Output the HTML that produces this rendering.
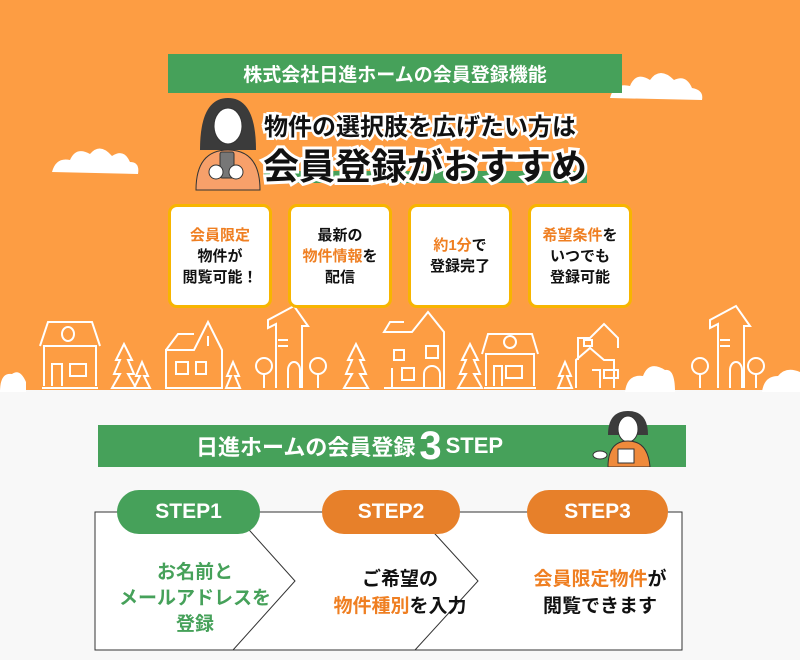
<!DOCTYPE html>
<html><head><meta charset="utf-8"><style>
body{margin:0;width:800px;height:660px;overflow:hidden;background:#f8f8f8;font-family:"Liberation Sans","Noto Sans CJK JP",sans-serif;font-weight:700}
.a{position:absolute}
.or{color:#ef7f22}
.card{position:absolute;top:204px;width:98px;height:98px;border:3px solid #f7b500;border-radius:9px;background:#fff;display:flex;align-items:center;justify-content:center;text-align:center;font-size:15px;line-height:21px;color:#111}
.pill{position:absolute;top:490px;height:44px;border-radius:22px;color:#fff;font-size:21px;display:flex;align-items:center;justify-content:center;font-family:"Liberation Sans",sans-serif}
.st{position:absolute;text-align:center;font-size:19px;line-height:27px;color:#111}
</style></head><body>
<div class="a" style="left:0;top:0;width:800px;height:390px;background:#fd9d43"></div>
<svg class="a" style="left:0;top:0" width="800" height="400">
<g fill="#fff">
<path d="M52 172 q4-15 18-12 q6-14 20-6 q10-12 22 2 q12-8 18 6 q10 0 8 12z"/>
<path d="M610 98 q4-16 20-12 q6-15 20-6 q10-14 24 0 q12-6 18 8 q12 2 10 12z"/>
<path d="M0 392 q0-20 12-18 q8-6 14 8 l0 10z"/>
<path d="M625 392 q2-18 18-16 q6-16 22-6 q10-2 10 22z"/>
<path d="M762 392 q2-16 16-16 q8-10 22-4 v20z"/>
</g>
<g fill="none" stroke="#fff" stroke-width="2">
<path d="M42 388h56 M44 386v-40h52v40 M40 346l8-24h44l8 24 M52 386v-22h10v22 M70 364h16v12h-16z M62 334a6 7 0 1 0 12 0a6 7 0 1 0-12 0"/>
<path d="M122 388l-10 0 8-14-6 0 6-14-4 0 8-16 8 16-4 0 6 14-6 0 8 14z M142 388l-8 0 6-12-4 0 6-14 6 14-4 0 6 12z"/>
<path d="M166 388h56v-38l-14-28-14 28h-28z M166 350l12-16h16 M176 362h12v12h-12z M196 362h10v12h-10z M208 336v10"/>
<path d="M232 388l-6 0 5-12-4 0 6-14 6 14-4 0 5 12z"/>
<path d="M276 388v-64l-8 4v-8l26-14 14 20-6 0v62 M278 340h10 M278 346h10 M288 388v-18a6 8 0 0 1 12 0v18"/>
<circle cx="264" cy="366" r="8"/><path d="M264 374v14"/><circle cx="318" cy="366" r="8"/><path d="M318 374v14"/>
<path d="M354 388l-10 0 8-14-6 0 6-14-4 0 8-16 8 16-4 0 6 14-6 0 8 14z"/>
<path d="M384 388h60v-56l-16-20-16 20h-28l6-10h14 M392 368v20 M394 350h10v10h-10z M402 368h12v12h-12z M424 388v-14a8 8 0 0 1 16 0v14 M426 346h12v12h-12z"/>
<path d="M468 388l-10 0 8-14-6 0 6-14-4 0 8-16 8 16-4 0 6 14-6 0 8 14z"/>
<path d="M484 388h52 M486 386v-32h48v32 M482 354l6-20h44l6 20 M494 386v-20h8v20 M506 366h16v12h-16z M504 342a6 6 0 1 0 12 0a6 6 0 1 0-12 0"/>
<path d="M564 388l-6 0 5-12-4 0 6-14 6 14-4 0 5 12z"/>
<path d="M576 388v-28l14-12 14 12h10v28 M578 360v-22h12l14-14 14 14v10 M592 370h8v18 M604 370h14v8h-14z M584 340h8v6h-8z"/>
<path d="M718 388v-64l-8 4v-8l26-14 14 20-6 0v62 M720 340h10 M720 346h10 M730 388v-18a6 8 0 0 1 12 0v18"/>
<circle cx="700" cy="366" r="8"/><path d="M700 374v14"/><circle cx="756" cy="366" r="8"/><path d="M756 374v14"/>
</g>
<g>
<path d="M200 150 q0-52 28-52 q28 0 28 52z" fill="#3b3b3b"/>
<ellipse cx="228" cy="126" rx="14" ry="18" fill="#fff" stroke="#333"/>
<path d="M196 190 q0-40 32-40 q32 0 32 40z" fill="#f7a06a" stroke="#333"/>
<rect x="220" y="152" width="14" height="26" rx="2" fill="#777" stroke="#333"/>
<circle cx="216" cy="172" r="7" fill="#fff" stroke="#333"/><circle cx="236" cy="172" r="7" fill="#fff" stroke="#333"/>
</g>
</svg>
<div class="a" style="left:264px;top:171px;width:323px;height:12px;background:#46a15a"></div>
<div class="a" style="left:168px;top:54px;width:454px;height:39px;background:#46a15a;color:#fff;font-size:19px;display:flex;align-items:center;justify-content:center">株式会社日進ホームの会員登録機能</div>
<div class="a" style="left:264px;top:107px;font-size:24px;color:#111;-webkit-text-stroke:5px #fff;paint-order:stroke fill;white-space:nowrap">物件の選択肢を広げたい方は</div>
<div class="a" style="left:263px;top:138px;font-size:36px;color:#111;-webkit-text-stroke:6px #fff;paint-order:stroke fill;white-space:nowrap">会員登録がおすすめ</div>
<div class="card" style="left:168px"><div><span class="or">会員限定</span><br>物件が<br>閲覧可能！</div></div>
<div class="card" style="left:288px"><div>最新の<br><span class="or">物件情報</span>を<br>配信</div></div>
<div class="card" style="left:408px"><div><span class="or">約1分</span>で<br>登録完了</div></div>
<div class="card" style="left:528px"><div><span class="or">希望条件</span>を<br>いつでも<br>登録可能</div></div>

<div class="a" style="left:98px;top:425px;width:588px;height:42px;background:#46a15a"></div>
<div class="a" style="left:196px;top:425px;height:42px;color:#fff;font-size:22px;display:flex;align-items:center;white-space:nowrap">日進ホームの会員登録<span style="font-size:40px;margin:0 4px">3</span>STEP</div>
<svg class="a" style="left:590px;top:405px" width="70" height="62">
<path d="M18 30 q0-24 20-24 q20 0 20 24z" fill="#3b3b3b"/>
<ellipse cx="38" cy="24" rx="10" ry="13" fill="#fff" stroke="#333"/>
<path d="M18 62 q0-26 20-26 q20 0 22 26z" fill="#ef8a3c" stroke="#333"/>
<ellipse cx="10" cy="50" rx="7" ry="4" fill="#fff" stroke="#333"/>
<rect x="28" y="44" width="16" height="14" fill="#fff" stroke="#333"/>
</svg>
<svg class="a" style="left:0;top:0" width="800" height="660">
<path d="M95 512H682V650H95Z" fill="#fff" stroke="#333" stroke-width="1"/>
<path d="M233 512L295 581L233 650 M415 512L478 581L415 650" fill="none" stroke="#333" stroke-width="1"/>
</svg>
<div class="pill" style="left:117px;width:143px;background:#46a15a">STEP1</div>
<div class="pill" style="left:322px;width:138px;background:#e7802a">STEP2</div>
<div class="pill" style="left:527px;width:141px;background:#e7802a">STEP3</div>
<div class="st" style="left:100px;width:190px;top:560px;color:#46a15a;line-height:26px">お名前と<br>メールアドレスを<br>登録</div>
<div class="st" style="left:300px;width:200px;top:566px">ご希望の<br><span class="or">物件種別</span>を入力</div>
<div class="st" style="left:500px;width:200px;top:566px"><span class="or">会員限定物件</span>が<br>閲覧できます</div>
</body></html>
